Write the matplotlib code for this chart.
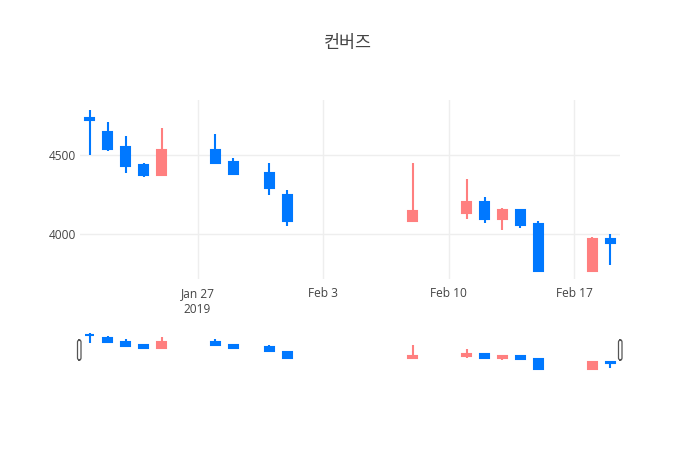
import datetime as dt
import matplotlib
matplotlib.use("Agg")
import matplotlib.pyplot as plt
import matplotlib.dates as mdates
from matplotlib.patches import FancyBboxPatch

# 컨버즈 daily prices
dates = ["2019-01-21", "2019-01-22", "2019-01-23", "2019-01-24", "2019-01-25",
         "2019-01-28", "2019-01-29", "2019-01-31", "2019-02-01", "2019-02-08",
         "2019-02-11", "2019-02-12", "2019-02-13", "2019-02-14", "2019-02-15",
         "2019-02-18", "2019-02-19"]
opens = [4735, 4650, 4550, 4440, 4375, 4535, 4460, 4390, 4245, 4080,
         4135, 4200, 4095, 4150, 4065, 3765, 3965]
highs = [4790, 4710, 4620, 4450, 4675, 4635, 4485, 4450, 4280, 4450,
         4350, 4235, 4165, 4160, 4085, 3980, 4000]
lows = [4500, 4525, 4390, 4365, 4375, 4445, 4375, 4250, 4050, 4080,
        4095, 4070, 4025, 4035, 3765, 3760, 3800]
closes = [4725, 4540, 4430, 4375, 4535, 4450, 4380, 4295, 4080, 4145,
          4200, 4095, 4150, 4055, 3765, 3965, 3940]

tick_dates = ["2019-01-27", "2019-02-03", "2019-02-10", "2019-02-17"]
tick_labels = ["Jan 27\n2019", "Feb 3", "Feb 10", "Feb 17"]
y_ticks = [4000, 4500]

UP = "#ff7f7f"
DOWN = "#0078ff"
TXT = "#444444"

x = mdates.date2num([dt.datetime.strptime(d, "%Y-%m-%d") for d in dates])
colors = [UP if c > o else DOWN for o, c in zip(opens, closes)]

W, H = 700, 450
fig = plt.figure(figsize=(7, 4.5), dpi=100)


def px_axes(left, top, right, bottom):
    return fig.add_axes([left / W, 1 - bottom / H, (right - left) / W, (bottom - top) / H])


def draw_candles(ax):
    ax.vlines(x, lows, highs, colors=colors, linewidth=1.5, zorder=2)
    bottoms = [min(o, c) for o, c in zip(opens, closes)]
    heights = [abs(c - o) for o, c in zip(opens, closes)]
    ax.bar(x, heights, bottom=bottoms, width=0.5, color=colors,
           edgecolor=colors, linewidth=1.5, zorder=3)


ylo, yhi = 3714, 4851
xlo, xhi = x[0] - 0.55, x[-1] + 0.55

ax = px_axes(80, 100, 620, 279)
draw_candles(ax)
ax.set_xlim(xlo, xhi)
ax.set_ylim(ylo, yhi)
ax.set_yticks(y_ticks)
ax.set_yticklabels([str(v) for v in y_ticks])
ax.set_xticks(mdates.date2num([dt.datetime.strptime(d, "%Y-%m-%d") for d in tick_dates]))
ax.set_xticklabels(tick_labels, linespacing=1.25)
ax.tick_params(length=0, labelsize=8.6, labelcolor=TXT)
ax.tick_params(axis="x", pad=6)
ax.tick_params(axis="y", pad=3)
for lab in ax.get_xticklabels() + ax.get_yticklabels():
    lab.set_family(["Open Sans", "DejaVu Sans"])
ax.grid(True, color="#eeeeee", linewidth=1)
ax.set_axisbelow(True)
for s in ax.spines.values():
    s.set_visible(False)

# range slider
sl = px_axes(80, 331, 620, 371)
draw_candles(sl)
sl.set_xlim(xlo, xhi)
sl.set_ylim(ylo, yhi)
sl.set_xticks([])
sl.set_yticks([])
for s in sl.spines.values():
    s.set_visible(False)

for hx in (77.5, 618.5):
    fig.patches.append(FancyBboxPatch((hx / W, 1 - 360 / H), 3.5 / W, 20 / H,
                                      boxstyle="round,pad=0,rounding_size=0.004",
                                      transform=fig.transFigure, facecolor="white",
                                      edgecolor="#555555", linewidth=0.9))

fig.text(0.497, 1 - 43 / H, "컨버즈", ha="center", va="center", fontsize=12.5,
         color=TXT, family=["Noto Sans CJK KR", "DejaVu Sans"])

fig.savefig("out.png", dpi=100)
